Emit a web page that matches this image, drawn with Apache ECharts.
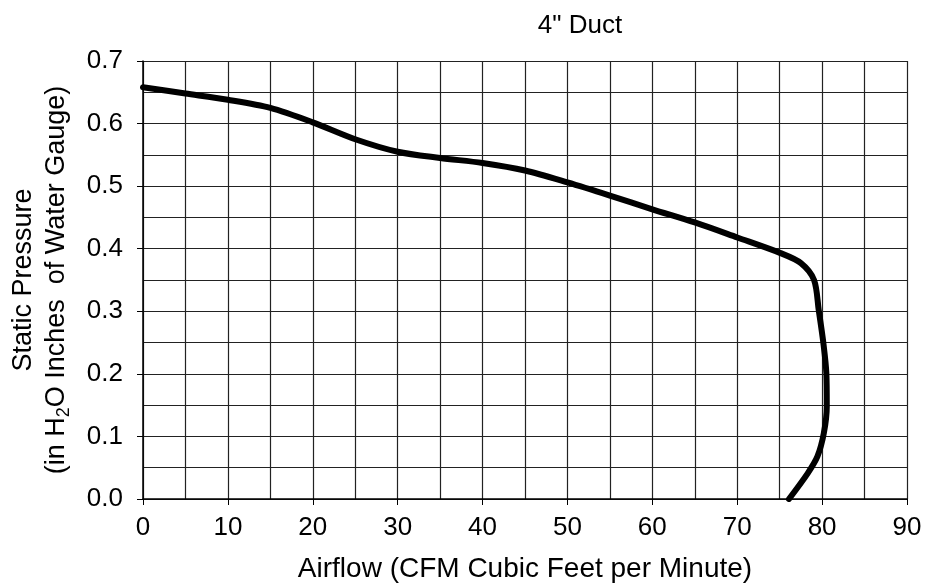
<!DOCTYPE html>
<html><head><meta charset="utf-8">
<script src="https://cdn.jsdelivr.net/npm/echarts@6/dist/echarts.min.js"></script>
<style>html,body{margin:0;padding:0;background:#fff}#c{width:927px;height:586px}</style>
</head><body><div id="c"></div>
<script>
const titleText = '4" Duct';
const xName = 'Airflow (CFM Cubic Feet per Minute)';
const airflow  = [0, 5, 10, 15, 20, 25, 30, 35, 40, 45, 50, 55, 60, 65, 70, 75.1, 77.5, 79.05, 79.6, 80.15, 80.5, 80.55, 80.2, 79.45, 78.3, 76.1];
const pressure = [0.658, 0.648, 0.638, 0.625, 0.602, 0.575, 0.555, 0.545, 0.537, 0.525, 0.506, 0.485, 0.463, 0.442, 0.418, 0.393, 0.377, 0.35, 0.302, 0.249, 0.201, 0.148, 0.105, 0.068, 0.041, 0.0];

const chart = echarts.init(document.getElementById('c'));
const font = 'Liberation Sans, Arial, sans-serif';
chart.setOption({
  animation: false,
  title: { text: titleText, left: 575, top: 8, textAlign: 'center',
    textStyle: { fontFamily: font, fontSize: 26, fontWeight: 'normal', color: '#000' } },
  grid: { left: 143, right: 20, top: 61, bottom: 87, outerBoundsMode: 'none', containLabel: false },
  xAxis: {
    type: 'value', min: 0, max: 90, interval: 10,
    name: xName, nameLocation: 'middle', nameGap: 56,
    nameTextStyle: { fontFamily: font, fontSize: 28, color: '#000' },
    axisLine: { lineStyle: { color: '#000', width: 1.5 } },
    axisTick: { show: true, length: 6, lineStyle: { color: '#000' } },
    axisLabel: { fontFamily: font, fontSize: 26, color: '#000', margin: 16 },
    splitLine: { show: true, lineStyle: { color: '#222', width: 1.2 } },
    minorTick: { show: false, splitNumber: 2 },
    minorSplitLine: { show: true, lineStyle: { color: '#222', width: 1.2 } }
  },
  yAxis: {
    type: 'value', min: 0, max: 0.7, interval: 0.1,
    name: 'Static Pressure\n(in H{s|2}O Inches  of Water Gauge)',
    nameLocation: 'middle', nameRotate: 90, nameGap: 103,
    nameTextStyle: { fontFamily: font, fontSize: 27, color: '#000', lineHeight: 33,
      verticalAlign: 'middle', align: 'center',
      rich: { s: { fontFamily: font, fontSize: 18, color: '#000', verticalAlign: 'bottom', lineHeight: 33 } } },
    axisLine: { show: true, lineStyle: { color: '#000', width: 1.5 } },
    axisTick: { show: true, length: 6, lineStyle: { color: '#000' } },
    axisLabel: { fontFamily: font, fontSize: 26, color: '#000', margin: 20,
      formatter: v => v.toFixed(1) },
    splitLine: { show: true, lineStyle: { color: '#222', width: 1.2 } },
    minorTick: { show: false, splitNumber: 2 },
    minorSplitLine: { show: true, lineStyle: { color: '#222', width: 1.2 } }
  },
  series: [{
    type: 'line', data: airflow.map((x, i) => [x, pressure[i]]),
    showSymbol: false, smooth: 0.3,
    lineStyle: { color: '#000', width: 6, cap: 'round', join: 'round' }
  }]
});
</script></body></html>
